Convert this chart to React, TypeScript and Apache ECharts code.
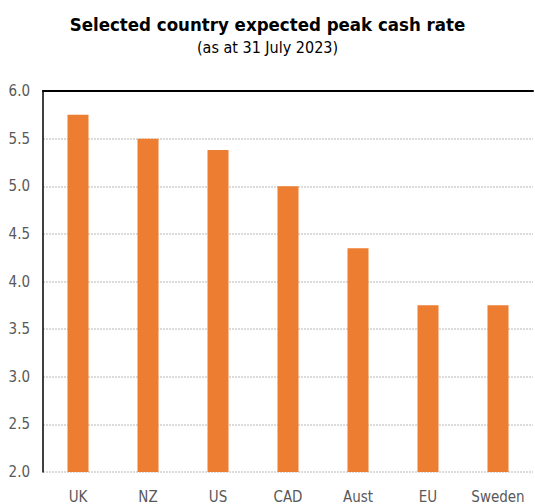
import React, { useEffect, useRef } from "react";
import * as echarts from "echarts";

const categories = ["UK", "NZ", "US", "CAD", "Aust", "EU", "Sweden"];
const peakRates = [5.75, 5.5, 5.38, 5.0, 4.35, 3.75, 3.75];
const titleText = "Selected country expected peak cash rate";
const subtitleText = "(as at 31 July 2023)";

const FONT = "'Liberation Sans Narrow', 'DejaVu Sans Condensed', 'Liberation Sans', Arial, sans-serif";

export default function App() {
  const ref = useRef<HTMLDivElement>(null);
  useEffect(() => {
    if (!ref.current) return;
    const chart = echarts.init(ref.current, null, { renderer: "svg" });
    chart.setOption({
      animation: false,
      backgroundColor: "#ffffff",
      title: {
        text: titleText,
        subtext: subtitleText,
        left: "center",
        top: 10,
        itemGap: 5,
        textStyle: { fontFamily: FONT, fontSize: 18.5, fontWeight: "bold", color: "#000000" },
        subtextStyle: { fontFamily: FONT, fontSize: 16, color: "#000000" },
      },
      grid: { left: 43, top: 91, right: 2, bottom: 30, containLabel: false },
      xAxis: [
        {
          type: "category",
          data: categories,
          axisLine: { show: false },
          axisTick: { show: false },
          axisLabel: { fontFamily: FONT, fontSize: 15, color: "#595959", margin: 17, interval: 0 },
        },
        {
          type: "category",
          position: "top",
          data: categories,
          axisLine: { show: true, lineStyle: { color: "#000000", width: 2 } },
          axisTick: { show: false },
          axisLabel: { show: false },
        },
      ],
      yAxis: {
        type: "value",
        min: 2,
        max: 6,
        interval: 0.5,
        axisLine: { show: true, lineStyle: { color: "#000000", width: 1.5 } },
        axisTick: { show: false },
        axisLabel: {
          fontFamily: FONT,
          fontSize: 15,
          color: "#595959",
          margin: 13,
          formatter: (v: number) => v.toFixed(1),
        },
        splitLine: { show: true, lineStyle: { color: "#d0d0d0", width: 1.5, type: [2, 1] } },
      },
      series: [
        {
          type: "bar",
          data: peakRates,
          barWidth: "30%",
          itemStyle: { color: "#ED7D31" },
        },
      ],
    });
    return () => chart.dispose();
  }, []);
  return (
    <div
      ref={ref}
      style={{ position: "absolute", left: 0, top: 0, width: 535, height: 504 }}
    />
  );
}
